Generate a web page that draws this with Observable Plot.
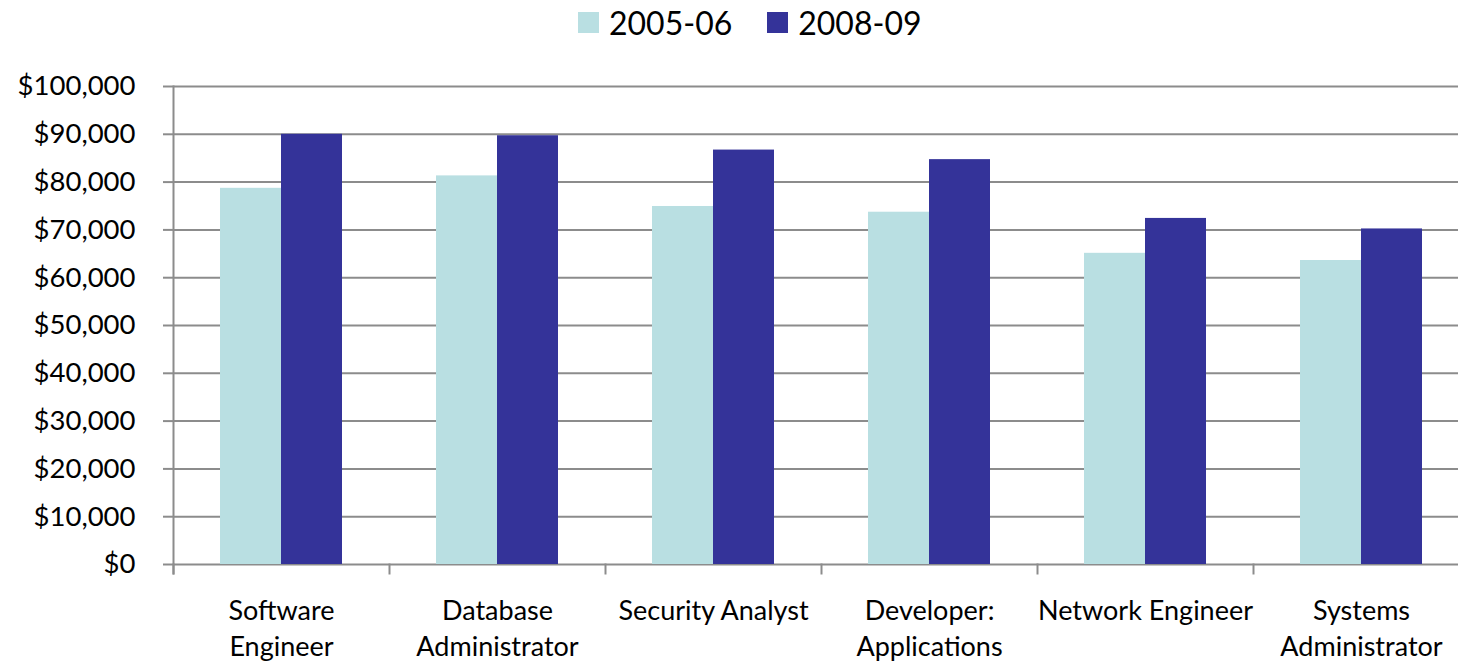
<!DOCTYPE html>
<html>
<head>
<meta charset="utf-8">
<script src="https://cdn.jsdelivr.net/npm/d3@7"></script>
<script src="https://cdn.jsdelivr.net/npm/@observablehq/plot@0.6"></script>
<style>
  html, body { margin: 0; padding: 0; background: #fff; overflow: hidden; }
  body { width: 1458px; height: 661px; font-family: Lato, "Open Sans", sans-serif; }
  #legend { height: 50px; display: flex; align-items: center; padding-left: 578px; box-sizing: border-box; padding-bottom: 5px; }
  .item { display: flex; align-items: center; margin-right: 35px; }
  .swatch { width: 21px; height: 21px; margin-right: 10px; }
  .label { font-size: 32px; color: #000; line-height: 40px; }
  #chart svg { max-width: none !important; display: block; overflow: visible; }
</style>
</head>
<body>
<div id="legend"></div>
<div id="chart"></div>
<script>
// Job roles (x groups) and their two-line axis labels
const categories = ["Software Engineer", "Database Administrator", "Security Analyst",
                    "Developer: Applications", "Network Engineer", "Systems Administrator"];
const categoryLabels = ["Software\nEngineer", "Database\nAdministrator", "Security Analyst",
                        "Developer:\nApplications", "Network Engineer", "Systems\nAdministrator"];

// Survey periods and average salaries
const series = ["2005-06", "2008-09"];
const salaries2005 = [78700, 81300, 74900, 73700, 65100, 63600];
const salaries2008 = [90000, 89700, 86700, 84700, 72400, 70200];

const yTicks = [0, 10000, 20000, 30000, 40000, 50000, 60000, 70000, 80000, 90000, 100000];
const colors = ["#b9dfe2", "#343399"];

const data = categories.flatMap((role, i) => [
  {role, year: series[0], value: salaries2005[i]},
  {role, year: series[1], value: salaries2008[i]}
]);

// Legend
const legend = document.getElementById("legend");
series.forEach((s, i) => {
  const item = document.createElement("div");
  item.className = "item";
  const sw = document.createElement("div");
  sw.className = "swatch";
  sw.style.background = colors[i];
  const lb = document.createElement("span");
  lb.className = "label";
  lb.textContent = s;
  item.append(sw, lb);
  legend.append(item);
});

const gridColor = "#8c8c8c";
const width = 1458, height = 611;
const marginTop = 36, marginBottom = 97;
const innerHeight = height - marginTop - marginBottom;
const labelOf = new Map(categories.map((c, i) => [c, categoryLabels[i]]));

// The plotting area runs slightly past the right edge of the page
const chart = Plot.plot({
  width,
  height,
  marginTop,
  marginBottom,
  marginLeft: 171,
  marginRight: -13,
  style: {fontFamily: "Lato, 'Open Sans', sans-serif", fontSize: "27px", color: "#000", background: "#fff", maxWidth: "none"},
  fx: {domain: categories, padding: 0, label: null},
  x: {domain: series, paddingInner: 0, paddingOuter: 0.75, axis: null},
  y: {domain: [0, 100000], label: null},
  color: {domain: series, range: colors},
  marks: [
    Plot.gridY(yTicks, {stroke: gridColor, strokeOpacity: 1, strokeWidth: 2}),
    Plot.barY(data, {fx: "role", x: "year", y: "value", fill: "year"}),
    Plot.axisY(yTicks, {
      tickFormat: d3.format("$,"), tickSize: 10, tickPadding: 28,
      stroke: gridColor, strokeWidth: 2, label: null, fontSize: 27.5
    }),
    // Vertical axis line on the left-most group
    Plot.frame({anchor: "left", facetAnchor: "left", stroke: gridColor, strokeWidth: 2, insetBottom: -9}),
    // Group separator ticks below the baseline
    Plot.frame({anchor: "left", stroke: gridColor, strokeWidth: 2, insetTop: innerHeight, insetBottom: -9}),
    Plot.axisFx({
      anchor: "bottom", tickSize: 0, tickPadding: 31, label: null, lineHeight: 1.3,
      tickFormat: d => labelOf.get(d), fontSize: 27
    })
  ]
});

document.getElementById("chart").append(chart);
</script>
</body>
</html>
